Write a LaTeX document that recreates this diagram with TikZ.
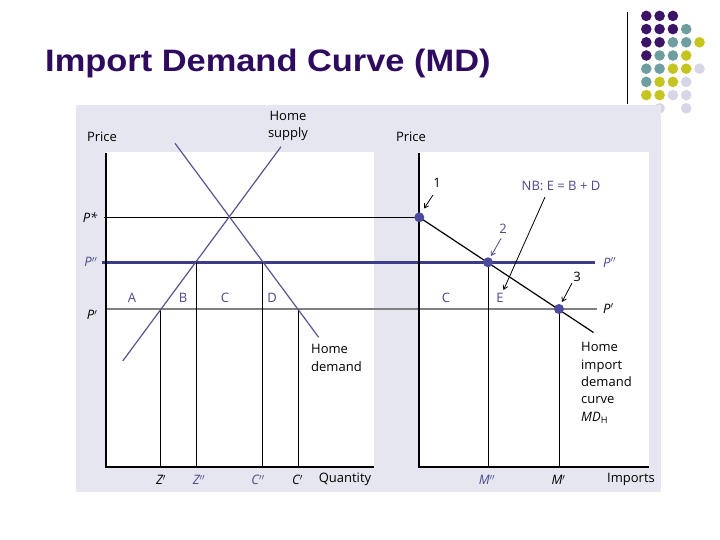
\documentclass[tikz,border=0pt]{standalone}
\usepackage{fontspec}
\usepackage{graphicx}
\setmainfont{Liberation Sans}
\newfontfamily\labfont{Open Sans}
\usetikzlibrary{arrows.meta}
\definecolor{ttl}{HTML}{2E0B5E}
\definecolor{dpur}{HTML}{3B1468}
\definecolor{dteal}{HTML}{6E9EA0}
\definecolor{dyel}{HTML}{C6C420}
\definecolor{dlav}{HTML}{D6D6E6}
\definecolor{panel}{HTML}{E6E6F0}
\definecolor{lpur}{HTML}{4A4A8C}
\definecolor{thickpur}{HTML}{3C3C88}
\definecolor{curvepur}{HTML}{55558F}
\definecolor{ptfill}{HTML}{4B4B9E}
\definecolor{pgray}{HTML}{808080}
\begin{document}
\begin{tikzpicture}[x=1pt,y=-1pt,
  lab/.style={font=\labfont\fontsize{13}{17.3}\selectfont, inner sep=0pt},
  pl/.style={lab, text=lpur},
  itl/.style={font=\labfont\itshape\fontsize{13}{17.3}\selectfont, inner sep=0pt},
  itp/.style={itl, text=lpur},
  axisline/.style={line width=1.3pt, black},
  thinline/.style={line width=0.9pt, black},
  curve/.style={line width=1.2pt, curvepur},
  ptdot/.style={circle, fill=ptfill, minimum size=10pt, inner sep=0pt},
  arr/.style={-{Straight Barb[length=4pt,width=5pt]}, line width=0.8pt}]
\useasboundingbox (0,0) rectangle (720,540);
\fill[white] (0,0) rectangle (720,540);
% decoration
\foreach \c/\r/\col in {1/1/dpur,2/1/dpur,3/1/dpur,
  1/2/dpur,2/2/dpur,3/2/dpur,4/2/dteal,
  1/3/dpur,2/3/dpur,3/3/dteal,4/3/dteal,5/3/dyel,
  1/4/dpur,2/4/dteal,3/4/dteal,4/4/dyel,
  1/5/dteal,2/5/dteal,3/5/dyel,4/5/dyel,5/5/dlav,
  1/6/dteal,2/6/dyel,3/6/dyel,4/6/dlav,
  1/7/dyel,2/7/dyel,3/7/dlav,4/7/dlav,
  2/8/dlav,4/8/dlav}
  \fill[\col] ({633+13.3*\c},{2.7+13.2*\r}) circle (5.3);
\draw[line width=0.9pt] (627.3,12) -- (627.3,104);
% title
\node[anchor=base west, inner sep=0pt, text=ttl, font=\bfseries\fontsize{31}{36}\selectfont] (title) at (45,71.7) {\scalebox{1.11}[1]{Import Demand Curve (MD)}};
% panel
\fill[panel] (76,105) rectangle (661,492);
\fill[white] (106,152) rectangle (374,467);
\fill[white] (419,152) rectangle (649,467);
% coordinates
\coordinate (oL) at (106,467);
\coordinate (yL) at (106,153);
\coordinate (xL) at (374,467);
\coordinate (oR) at (419,467);
\coordinate (yR) at (419,153);
\coordinate (xR) at (649,467);
\coordinate (s1) at (122.7,361);
\coordinate (s2) at (281,146.7);
\coordinate (d1) at (175,143.3);
\coordinate (d2) at (318.7,337.3);
\coordinate (psA) at (103.5,217.3);
\coordinate (psB) at (419,217.3);
\coordinate (ppA) at (102,262.3);
\coordinate (ppB) at (595,262.3);
\coordinate (pA) at (105,309);
\coordinate (pB) at (597,309);
\coordinate (zpT) at (160.5,309);   \coordinate (zpB) at (160.5,467);
\coordinate (zppT) at (196.3,262.3); \coordinate (zppB) at (196.3,467);
\coordinate (cppT) at (262.5,262.3); \coordinate (cppB) at (262.5,467);
\coordinate (cpT) at (298.5,309);   \coordinate (cpB) at (298.5,467);
\coordinate (mppB) at (488,467);
\coordinate (mpB) at (559,467);
\coordinate (mdEnd) at (593.5,332.5);
% price lines
\draw[thinline] (psA) -- (psB);
\draw[line width=2pt, pgray] (pA) -- (pB);
\draw[line width=3pt, thickpur] (ppA) -- (ppB);
% vertical lines
\draw[thinline] (zpT) -- (zpB);
\draw[thinline] (zppT) -- (zppB);
\draw[thinline] (cppT) -- (cppB);
\draw[thinline] (cpT) -- (cpB);
% axes
\draw[axisline] (yL) -- (oL) -- (xL);
\draw[axisline] (yR) -- (oR) -- (xR);
% supply & demand
\draw[curve] (s1) -- (s2);
\draw[curve] (d1) -- (d2);
% MD points
\coordinate (p1c) at (419.3,217.3);
\coordinate (p2c) at (488,262.3);
\coordinate (p3c) at (559,309);
\draw[thinline] (p2c) -- (mppB);
\draw[thinline] (p3c) -- (mpB);
\draw[line width=1.2pt] (p1c) -- (mdEnd);
\node[ptdot] (p1) at (p1c) {};
\node[ptdot] (p2) at (p2c) {};
\node[ptdot] (p3) at (p3c) {};
% left labels
\node[lab] (priceL) at (102,137) {Price};
\node[lab, align=center] (hsup) at (288,126) {Home\\supply};
\node[itl, anchor=east] (pstarL) at (97.5,217.5) {P*};
\node[itp, anchor=east] (ppL) at (97.5,262) {P$''$};
\node[itl, anchor=east] (pL) at (97.5,315) {P$'$};
\node[pl] (lA) at (132,297.5) {A};
\node[pl] (lB) at (183,297.5) {B};
\node[pl] (lC) at (225,297.5) {C};
\node[pl] (lD) at (272,297.5) {D};
\node[lab, align=left, anchor=west] (hdem) at (311,358) {Home\\demand};
\node[itl] (zp) at (161,480) {Z$'$};
\node[itp] (zpp) at (199,480) {Z$''$};
\node[itp] (cpp) at (258,480) {C$''$};
\node[itl] (cp) at (297.5,480) {C$'$};
\node[lab] (qty) at (345,479) {Quantity};
% right labels
\node[lab] (priceR) at (411,137) {Price};
\node[lab] (l1) at (437,183) {1};
\node[pl] (l2) at (503,229) {2};
\node[lab] (l3) at (577,277) {3};
\node[pl] (nb) at (561,186) {NB: E = B + D};
\node[pl] (rC) at (446,297.5) {C};
\node[pl] (rE) at (500,297.5) {E};
\node[itp, anchor=west] (ppR) at (603,262.5) {P$''$};
\node[itl, anchor=west] (pR) at (603,308.5) {P$'$};
\node[lab, align=left, anchor=west] (mdlab) at (581,383) {Home\\import\\demand\\curve\\{\itshape MD}\textsubscript{H}};
\node[itp] (mpp) at (487,480) {M$''$};
\node[itl] (mp) at (558.5,480) {M$'$};
\node[lab] (imp) at (631,479) {Imports};
% arrows
\coordinate (a1s) at (433,195);   \coordinate (a1e) at (424,208.5);
\coordinate (a2s) at (501,238.5); \coordinate (a2e) at (491,256);
\coordinate (a3s) at (572,283);   \coordinate (a3e) at (562,302);
\coordinate (nbs) at (545,197);   \coordinate (nbe) at (503.5,290);
\draw[arr] (a1s) -- (a1e);
\draw[arr, lpur] (a2s) -- (a2e);
\draw[arr] (a3s) -- (a3e);
\draw[arr] (nbs) -- (nbe);
\end{tikzpicture}
\end{document}
